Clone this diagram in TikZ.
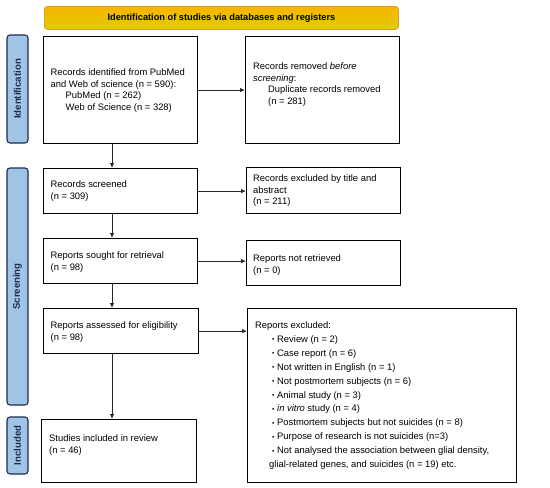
\documentclass[tikz,border=0pt]{standalone}
\usepackage{fontspec}
\setmainfont{Liberation Sans}
\usetikzlibrary{arrows.meta,calc}
\definecolor{sidefill}{RGB}{160,195,232}
\definecolor{sidedraw}{RGB}{30,45,75}
\definecolor{bantop}{RGB}{248,180,0}
\definecolor{banbot}{RGB}{222,205,0}
\definecolor{bandraw}{RGB}{215,160,40}
\definecolor{arrcol}{RGB}{40,40,40}
\newcommand{\bul}{\makebox[5pt][l]{\raisebox{0.6pt}{\fontsize{6.5}{6}\selectfont •}}}
\begin{document}
\begin{tikzpicture}[x=1pt,y=-1pt,
  box/.style={draw=black,line width=1.2pt,anchor=north west,inner sep=0pt},
  txt/.style={anchor=north west,inner sep=0pt,align=left,font=\fontsize{9.4}{11.5}\selectfont},
  lst/.style={anchor=north west,inner sep=0pt,align=left,font=\fontsize{9.4}{13.9}\selectfont},
  side/.style={draw=sidedraw,fill=sidefill,line width=1.1pt,rounded corners=3pt,rotate=90,inner sep=0pt,
    text=sidedraw,font=\fontsize{9.6}{11}\selectfont\bfseries},
  arr/.style={draw=arrcol,line width=0.8pt,-{Latex[length=5pt,width=4.5pt]}}]
\useasboundingbox (0,0) rectangle (550,488);
% banner
\node[anchor=north west,minimum width=354pt,minimum height=23pt,rounded corners=3pt,
  draw=bandraw,line width=0.8pt,top color=bantop,bottom color=banbot,
  font=\fontsize{9.25}{10}\selectfont\bfseries] (ban) at (44,6) {Identification of studies via databases and registers};
% side labels
\node[side,minimum width=108pt,minimum height=21pt] (sid) at (17.5,89) {Identification};
\node[side,minimum width=237pt,minimum height=21pt] (sscr) at (17.5,286.5) {Screening};
\node[side,minimum width=57pt,minimum height=21pt] (sinc) at (17.5,445.5) {Included};
% boxes
\node[box,minimum width=154pt,minimum height=107pt] (b1) at (43,36) {};
\node[box,minimum width=154pt,minimum height=107pt] (r1) at (245,36) {};
\node[box,minimum width=154pt,minimum height=45pt] (b2) at (43,168) {};
\node[box,minimum width=154pt,minimum height=46pt] (r2) at (246,167) {};
\node[box,minimum width=154pt,minimum height=45pt] (b3) at (43,238) {};
\node[box,minimum width=154pt,minimum height=45pt] (r3) at (246,240) {};
\node[box,minimum width=155pt,minimum height=45pt] (b4) at (43,308) {};
\node[box,minimum width=269pt,minimum height=174pt] (r4) at (247,308) {};
\node[box,minimum width=155pt,minimum height=63pt] (b5) at (41,419) {};
% texts
\node[txt] (b1t) at (50.5,68.5) {Records identified from PubMed\\and Web of science (n = 590):\\\hspace*{15pt}PubMed (n = 262)\\\hspace*{15pt}Web of Science (n = 328)};
\node[txt] (r1t) at (253,62.5) {Records removed \textit{before}\\\textit{screening}:\\\hspace*{15pt}Duplicate records removed\\\hspace*{15pt}(n = 281)};
\node[txt] (b2t) at (50.5,180.5) {Records screened\\(n = 309)};
\node[txt] (r2t) at (253,174.5) {Records excluded by title and\\abstract\\(n = 211)};
\node[txt] (b3t) at (50.5,251.5) {Reports sought for retrieval\\(n = 98)};
\node[txt] (r3t) at (253,254.5) {Reports not retrieved\\(n = 0)};
\node[txt] (b4t) at (50.5,321.5) {Reports assessed for eligibility\\(n = 98)};
\node[txt] (b5t) at (49,434.5) {Studies included in review\\(n = 46)};
\node[lst] (r4t) at (255,321.5) {Reports excluded:\\
\hspace*{17pt}\bul Review (n = 2)\\
\hspace*{17pt}\bul Case report (n = 6)\\
\hspace*{17pt}\bul Not written in English (n = 1)\\
\hspace*{17pt}\bul Not postmortem subjects (n = 6)\\
\hspace*{17pt}\bul Animal study (n = 3)\\
\hspace*{17pt}\bul\textit{in vitro} study (n = 4)\\
\hspace*{17pt}\bul Postmortem subjects but not suicides (n = 8)\\
\hspace*{17pt}\bul Purpose of research is not suicides (n=3)\\
\hspace*{17pt}\bul Not analysed the association between glial density,\\
\hspace*{14pt}glial-related genes, and suicides (n = 19) etc.};
% arrows
\coordinate (ax) at (112,0);
\draw[arr] (b1.south -| ax) -- (b2.north -| ax);
\draw[arr] (b2.south -| ax) -- (b3.north -| ax);
\draw[arr] (b3.south -| ax) -- (b4.north -| ax);
\draw[arr] (b4.south -| ax) -- (b5.north -| ax);
\draw[arr] (b1.east) -- (r1.west |- b1.east);
\draw[arr] (b2.east) -- (r2.west |- b2.east);
\draw[arr] (b3.east) -- (r3.west |- b3.east);
\draw[arr] (b4.east) -- (r4.west |- b4.east);
\end{tikzpicture}
\end{document}
